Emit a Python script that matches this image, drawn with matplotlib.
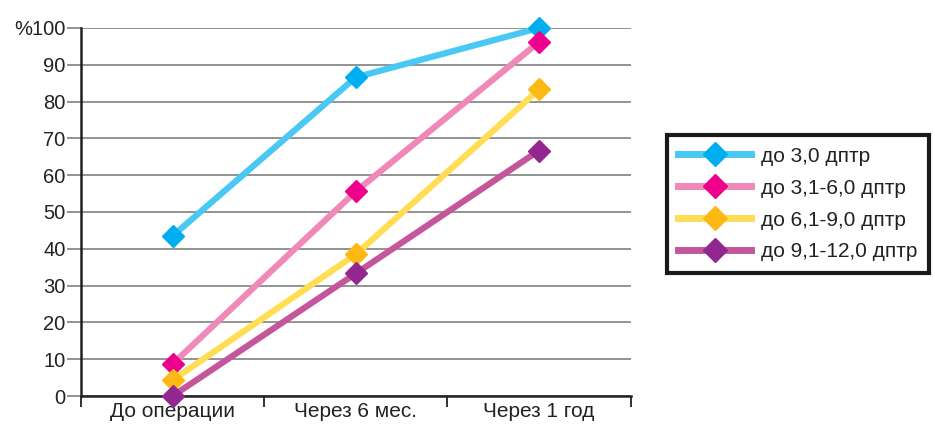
import matplotlib.pyplot as plt
from matplotlib.lines import Line2D

# Data
periods = ['До операции', 'Через 6 мес.', 'Через 1 год']
labels = ['до 3,0 дптр', 'до 3,1-6,0 дптр', 'до 6,1-9,0 дптр', 'до 9,1-12,0 дптр']
s1 = [43.5, 86.6, 100.0]
s2 = [8.7, 55.6, 96.2]
s3 = [4.3, 38.5, 83.3]
s4 = [0.0, 33.3, 66.7]
series = [s1, s2, s3, s4]
yticks = [0, 10, 20, 30, 40, 50, 60, 70, 80, 90, 100]
ytick_labels = ['0', '10', '20', '30', '40', '50', '60', '70', '80', '90', '%100']

line_colors = ['#48C8F2', '#F088B8', '#FFDD55', '#C4569C']
marker_colors = ['#00AEEF', '#EC008C', '#FDB913', '#92278F']

plt.rcParams['font.family'] = ['Liberation Sans', 'DejaVu Sans']

fig = plt.figure(figsize=(9.35, 4.26), dpi=100)
ax = fig.add_axes([0.0866, 0.0704, 0.588, 0.864])

x = [0.5, 1.5, 2.5]
handles = []
for vals, lc, mc, lab in zip(series, line_colors, marker_colors, labels):
    ax.plot(x, vals, color=lc, lw=4.5, solid_capstyle='butt', zorder=3)
    ax.plot(x, vals, ls='none', marker='D', ms=11, color=mc, mec=mc,
            clip_on=False, zorder=4)
    handles.append(Line2D([0], [0], color=lc, lw=5, marker='D', ms=12,
                          mfc=mc, mec=mc))

ax.set_xlim(0, 3)
ax.set_ylim(0, 100)
ax.set_yticks(yticks)
ax.set_yticklabels(ytick_labels)
ax.yaxis.grid(True, color='#8a8a8a', lw=1.3)
ax.set_axisbelow(True)
ax.tick_params(axis='y', length=10, width=1.3, color='#8a8a8a',
               labelsize=14.5, pad=1, labelcolor='#222222')

ax.set_xticks([0, 1, 2, 3])
ax.set_xticklabels([])
ax.set_xticks(x, minor=True)
ax.set_xticklabels(periods, minor=True)
ax.tick_params(axis='x', which='major', length=8, width=1.3, color='#222222')
ax.tick_params(axis='x', which='minor', length=0, labelsize=15, pad=4,
               labelcolor='#222222')

for side in ['top', 'right']:
    ax.spines[side].set_visible(False)
ax.spines['left'].set_color('#222222')
ax.spines['bottom'].set_color('#222222')
ax.spines['left'].set_linewidth(1.8)
ax.spines['bottom'].set_linewidth(1.8)

leg = fig.legend(handles, labels, loc='center left',
                 bbox_to_anchor=(0.713, 0.521), fontsize=15,
                 frameon=True, fancybox=False, framealpha=1,
                 handlelength=3.5, labelspacing=0.62, borderpad=0.55,
                 handletextpad=0.5, borderaxespad=0)
leg.get_frame().set_edgecolor('#1a1a1a')
leg.get_frame().set_linewidth(3)
for t in leg.get_texts():
    t.set_color('#222222')

fig.savefig('out.png', dpi=100)
